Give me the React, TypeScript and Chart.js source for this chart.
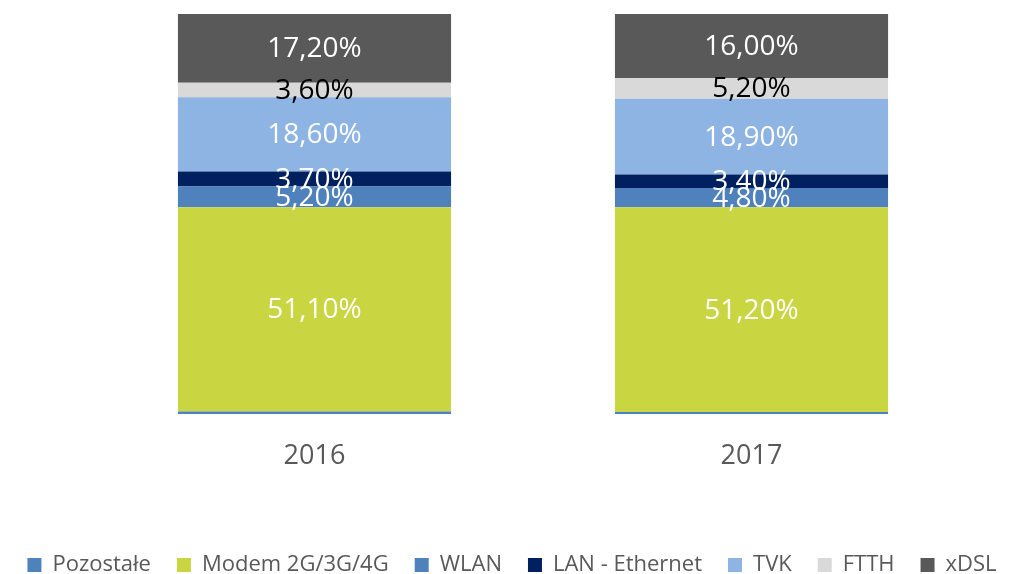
import React, { useEffect, useRef } from "react";
import { Chart, registerables } from "chart.js";

Chart.register(...registerables);

const categories = ["2016", "2017"];
const seriesNames = ["Pozostałe", "Modem 2G/3G/4G", "WLAN", "LAN - Ethernet", "TVK", "FTTH", "xDSL"];
const pozostale = [0.6, 0.5];
const modem = [51.1, 51.2];
const wlan = [5.2, 4.8];
const lan = [3.7, 3.4];
const tvk = [18.6, 18.9];
const ftth = [3.6, 5.2];
const xdsl = [17.2, 16.0];
const seriesColors = ["#4F81BD", "#C9D641", "#4F81BD", "#002060", "#8EB4E3", "#D9D9D9", "#595959"];
const labelColors = ["", "#FFFFFF", "#FFFFFF", "#FFFFFF", "#FFFFFF", "#000000", "#FFFFFF"];

const FONT = "'Open Sans', 'DejaVu Sans', sans-serif";

const labelPlugin = {
  id: "segLabels",
  afterDatasetsDraw(chart: any) {
    const ctx = chart.ctx;
    ctx.save();
    ctx.font = `28px ${FONT}`;
    ctx.textAlign = "center";
    ctx.textBaseline = "middle";
    chart.data.datasets.forEach((ds: any, di: number) => {
      if (di === 0) return;
      const meta = chart.getDatasetMeta(di);
      meta.data.forEach((el: any, i: number) => {
        const v = ds.data[i];
        const txt = v.toFixed(2).replace(".", ",") + "%";
        ctx.fillStyle = labelColors[di];
        ctx.fillText(txt, el.x, (el.y + el.base) / 2 + 1);
      });
    });
    ctx.restore();
  },
};

export default function App() {
  const ref = useRef<HTMLCanvasElement>(null);
  useEffect(() => {
    const values = [pozostale, modem, wlan, lan, tvk, ftth, xdsl];
    const chart = new Chart(ref.current!, {
      type: "bar",
      data: {
        labels: categories,
        datasets: seriesNames.map((n, i) => ({
          label: n,
          data: values[i],
          backgroundColor: seriesColors[i],
          borderWidth: 0,
          categoryPercentage: 1,
          barPercentage: 0.625,
        })),
      },
      options: {
        animation: false,
        responsive: true,
        maintainAspectRatio: false,
        layout: { padding: { left: 0, right: 0, top: 14, bottom: -12 } },
        plugins: {
          legend: {
            position: "bottom",
            labels: {
              boxWidth: 14,
              boxHeight: 14,
              padding: 26,
              color: "#595959",
              font: { size: 22, family: FONT },
            },
          },
          tooltip: { enabled: false },
        },
        scales: {
          x: {
            stacked: true,
            grid: { display: false },
            border: { display: false },
            ticks: { color: "#595959", font: { size: 27, family: FONT }, padding: 18 },
            afterFit: (s: any) => {
              s.height = 114;
            },
          },
          y: {
            stacked: true,
            display: true,
            min: 0,
            max: 100,
            ticks: { display: false },
            grid: { display: false },
            border: { display: false },
            afterFit: (s: any) => {
              s.width = 96;
            },
          },
          y2: {
            position: "right",
            display: true,
            ticks: { display: false },
            grid: { display: false },
            border: { display: false },
            afterFit: (s: any) => {
              s.width = 54;
            },
          },
        },
      },
      plugins: [labelPlugin],
    });
    return () => chart.destroy();
  }, []);
  return (
    <div style={{ position: "absolute", left: 0, top: 0, width: 1024, height: 574 }}>
      <canvas ref={ref} />
    </div>
  );
}
